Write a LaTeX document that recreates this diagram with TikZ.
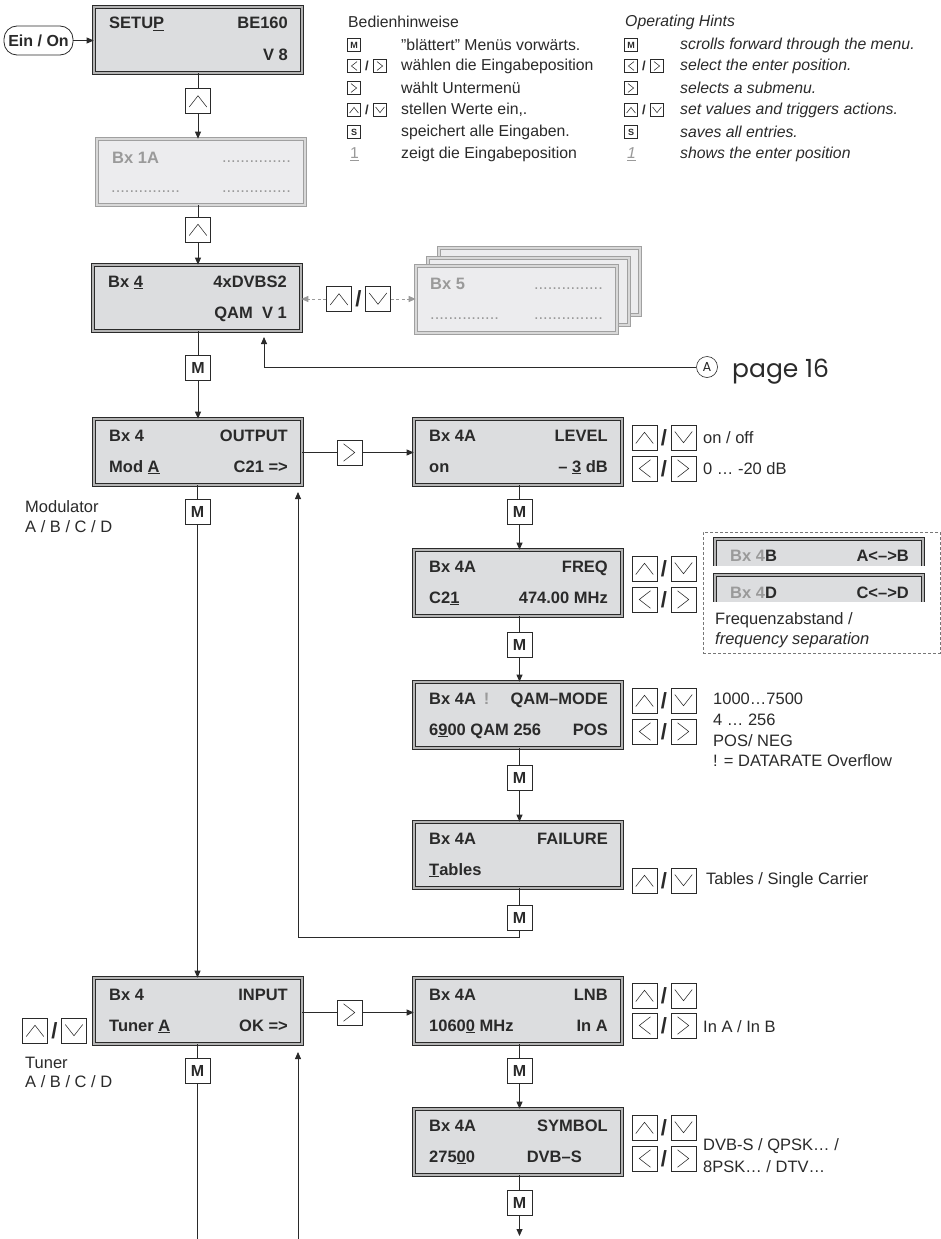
\documentclass[tikz,border=0pt]{standalone}
\usepackage{fontspec}
\setmainfont{Liberation Sans}
\newfontfamily\geofont{Poppins}
\usetikzlibrary{arrows.meta,calc}
\definecolor{lcdfill}{HTML}{DCDDDF}
\definecolor{lcdband}{HTML}{B4B4B4}
\definecolor{ink}{HTML}{2A2A2A}
\definecolor{ffill}{HTML}{ECECEE}
\definecolor{fband}{HTML}{D8D8D8}
\definecolor{fline}{HTML}{A0A0A0}
\definecolor{ftext}{HTML}{9A9A9A}
\definecolor{dashc}{HTML}{777777}

\tikzset{
  lcd/.style={draw=ink, double=lcdband, double distance=2.4pt, line width=0.85pt, fill=lcdfill, minimum width=207.8pt, minimum height=65.8pt, inner sep=0pt},
  lcdf/.style={lcd, draw=fline, double=fband, fill=ffill},
  lt/.style={font=\fontsize{16.5}{18}\selectfont\bfseries, inner sep=0pt, text=ink},
  ltf/.style={lt, text=ftext},
  dots/.style={font=\fontsize{16.5}{18}\selectfont, inner sep=0pt, text=ftext},
  ann/.style={font=\fontsize{16.5}{18}\selectfont, inner sep=0pt, text=ink, anchor=west},
  leg/.style={font=\fontsize{15.8}{17}\selectfont, inner sep=0pt, text=ink, anchor=west},
  legi/.style={leg, font=\fontsize{15.8}{17}\selectfont\itshape},
  key/.style={draw=ink, fill=white, line width=0.7pt, minimum size=#1, inner sep=0pt},
  kup/.style={key=#1, path picture={\draw[line width=0.55pt, ink]
      ([shift={(-0.35*#1,-0.24*#1)}]path picture bounding box.center) --
      ([shift={(0pt,0.21*#1)}]path picture bounding box.center) --
      ([shift={(0.35*#1,-0.24*#1)}]path picture bounding box.center);}},
  kdown/.style={key=#1, path picture={\draw[line width=0.55pt, ink]
      ([shift={(-0.35*#1,0.24*#1)}]path picture bounding box.center) --
      ([shift={(0pt,-0.21*#1)}]path picture bounding box.center) --
      ([shift={(0.35*#1,0.24*#1)}]path picture bounding box.center);}},
  kleft/.style={key=#1, path picture={\draw[line width=0.55pt, ink]
      ([shift={(0.24*#1,0.35*#1)}]path picture bounding box.center) --
      ([shift={(-0.21*#1,0pt)}]path picture bounding box.center) --
      ([shift={(0.24*#1,-0.35*#1)}]path picture bounding box.center);}},
  kright/.style={key=#1, path picture={\draw[line width=0.55pt, ink]
      ([shift={(-0.24*#1,0.35*#1)}]path picture bounding box.center) --
      ([shift={(0.21*#1,0pt)}]path picture bounding box.center) --
      ([shift={(-0.24*#1,-0.35*#1)}]path picture bounding box.center);}},
  mkey/.style={key=25pt, font=\fontsize{16}{16}\selectfont\bfseries, text=ink},
  smkey/.style={key=12.5pt, font=\fontsize{9}{9}\selectfont\bfseries, text=ink},
  slash/.style={font=\fontsize{22}{22}\selectfont\bfseries, inner sep=0pt, text=ink},
  sslash/.style={font=\fontsize{13}{13}\selectfont\bfseries, inner sep=0pt, text=ink},
  ln/.style={draw=ink, line width=0.8pt},
  arr/.style={ln, -{Triangle[length=7pt,width=6pt]}},
  garr/.style={draw=ftext, line width=0.9pt, dash pattern=on 3pt off 2.5pt, -{Triangle[length=7pt,width=6pt]}},
  pill/.style={draw=ink, line width=0.8pt, rounded corners=13pt, minimum width=69pt, minimum height=29pt, inner sep=0pt, font=\fontsize{16}{16}\selectfont\bfseries, text=ink},
}

% LCD box: name, left, top, top-left, top-right, bottom-left, bottom-right
\newcommand\LCD[7]{%
  \node[lcd] (#1) at ({#2+106},{#3+35}) {};
  \node[lt, anchor=base west] (#1-tl) at ({#2+17},{#3+24}) {#4};
  \node[lt, anchor=base east] (#1-tr) at ({#2+196},{#3+24}) {#5};
  \node[lt, anchor=base west] (#1-bl) at ({#2+17},{#3+55}) {#6};
  \node[lt, anchor=base east] (#1-br) at ({#2+196},{#3+55}) {#7};
}
% key pair: name, x, y, left style, right style
\newcommand\KP[5]{%
  \node[#4=25pt] (#1a) at (#2,#3) {};
  \node[slash] (#1s) at ({#2+19.5},#3) {/};
  \node[#5=25pt] (#1b) at ({#2+39},#3) {};
}
\newcommand\SKP[5]{%
  \node[#4=12.5pt] (#1a) at (#2,#3) {};
  \node[sslash] (#1s) at ({#2+13},#3) {/};
  \node[#5=12.5pt] (#1b) at ({#2+26},#3) {};
}

\begin{document}
\begin{tikzpicture}[x=1pt,y=-1pt]
\useasboundingbox (0,0) rectangle (941,1239);
\fill[white] (0,0) rectangle (941,1239);

% ---------- legend ----------
\node[leg] (lgt) at (348,22) {Bedienhinweise};
\node[legi] (rgt) at (625,22) {Operating Hints};
\node[smkey] (lm) at (354,45) {M};
\node[leg] (lmt) at (401,45) {"blättert" Menüs vorwärts.};
\SKP{llr}{354}{66}{kleft}{kright}
\node[leg] (llrt) at (401,66) {wählen die Eingabeposition};
\node[kright=12.5pt] (lr) at (354,88) {};
\node[leg] (lrt) at (401,88) {wählt Untermenü};
\SKP{lud}{354}{110}{kup}{kdown}
\node[leg] (ludt) at (401,110) {stellen Werte ein,.};
\node[smkey] (ls) at (354,132) {S};
\node[leg] (lst) at (401,132) {speichert alle Eingaben.};
\node[leg, text=ftext] (l1) at (350,154) {\underline{1}};
\node[leg] (l1t) at (401,154) {zeigt die Eingabeposition};

\node[smkey] (rm) at (631,45) {M};
\node[legi] (rmt) at (680,45) {scrolls forward through the menu.};
\SKP{rlr}{631}{66}{kleft}{kright}
\node[legi] (rlrt) at (680,66) {select the enter position.};
\node[kright=12.5pt] (rr) at (631,88) {};
\node[legi] (rrt) at (680,88) {selects a submenu.};
\SKP{rud}{631}{110}{kup}{kdown}
\node[legi] (rudt) at (680,110) {set values and triggers actions.};
\node[smkey] (rs) at (631,132) {S};
\node[legi] (rst) at (680,132) {saves all entries.};
\node[legi, text=ftext] (r1) at (627,154) {\underline{1}};
\node[legi] (r1t) at (680,154) {shows the enter position};

% ---------- top column ----------
\node[pill] (ein) at (38.5,40.5) {Ein / On};
\LCD{setup}{92}{5}{SETU\underline{P}}{BE160}{}{V 8}
\draw[arr] (ein.east) -- (ein.east -| setup.west);
\node[kup=25pt] (k1) at (198,101) {};
\draw[ln] (setup.south) -- (k1.north);

% faded Bx 1A
\node[lcdf] (bxa) at (201,172) {};
\node[ltf, anchor=base west] (bxa-tl) at (112,163) {Bx 1A};
\node[dots, anchor=base east] (bxa-tr) at (291,162) {...............};
\node[dots, anchor=base west] (bxa-bl) at (111,192) {...............};
\node[dots, anchor=base east] (bxa-br) at (291,192) {...............};
\draw[arr] (k1.south) -- (k1.south |- bxa.north);

\node[kup=25pt] (k2) at (198,229.5) {};
\draw[ln] (k2.north |- bxa.south) -- (k2.north);
\LCD{bxf}{91}{263}{Bx \underline{4}}{4xDVBS2}{}{QAM\ \ V 1}
\draw[arr] (k2.south) -- (k2.south |- bxf.north);

% Bx 5 stack
\node[lcdf, minimum width=200.8pt, minimum height=66.8pt] (b5c) at (539.5,281.5) {};
\node[lcdf, minimum width=200.8pt, minimum height=66.8pt] (b5b) at (528.5,291.5) {};
\node[lcdf, minimum width=200.8pt, minimum height=66.8pt] (b5a) at (516.5,299.5) {};
\node[ltf, anchor=base west] (b5-tl) at (430,289) {Bx 5};
\node[dots, anchor=base east] (b5-tr) at (603,289) {...............};
\node[dots, anchor=base west] (b5-bl) at (430,319) {...............};
\node[dots, anchor=base east] (b5-br) at (603,319) {...............};

\KP{k3}{339}{299}{kup}{kdown}
\draw[garr] (k3a.west) -- (k3a.west -| bxf.east);
\draw[garr] (k3b.east) -- (k3b.east -| b5a.west);

% return from A
\node[circle, draw=ink, line width=0.6pt, minimum size=21pt, inner sep=0pt, font=\geofont\fontsize{13}{13}\selectfont, text=ink] (cA) at (707,367) {A};
\node[anchor=base west, inner sep=0pt, font=\geofont\fontsize{25}{25}\selectfont, text=ink] (pg) at (732,377) {page 16};
\coordinate (bxfin) at (264,337);
\draw[arr] (cA.west) -| (bxfin);

\node[mkey] (km1) at (198,367.5) {M};
\draw[ln] (bxf.south -| km1.north) -- (km1.north);
\LCD{outp}{92}{417}{Bx 4}{OUTPUT}{Mod \underline{A}}{C21 =>}
\draw[arr] (km1.south) -- (km1.south |- outp.north);

% ---------- OUTPUT branch ----------
\node[kright=25pt] (kr1) at (349.5,452.5) {};
\LCD{lev}{412}{417}{Bx 4A}{LEVEL}{on}{– \underline{3} dB}
\draw[ln] (outp.east |- kr1.west) -- (kr1.west);
\draw[arr] (kr1.east) -- (kr1.east -| lev.west);
\KP{lv1}{644.5}{437.5}{kup}{kdown}
\KP{lv2}{644.5}{468.5}{kleft}{kright}
\node[ann] (lvt1) at (703,437.5) {on / off};
\node[ann] (lvt2) at (703,468.5) {0 … -20 dB};

\node[mkey] (km3) at (519.5,511.5) {M};
\draw[ln] (lev.south -| km3.north) -- (km3.north);
\LCD{frq}{412}{548}{Bx 4A}{FREQ}{C2\underline{1}}{474.00 MHz}
\draw[arr] (km3.south) -- (km3.south |- frq.north);
\KP{fq1}{644.5}{568.5}{kup}{kdown}
\KP{fq2}{644.5}{599.5}{kleft}{kright}

% frequency separation box
\node[draw=dashc, dash pattern=on 3pt off 2pt, line width=0.6pt, minimum width=237pt, minimum height=121pt, inner sep=0pt] (sep) at (821.5,592.5) {};
\begin{scope}
\clip (705,530) rectangle (935,565);
\node[lcd] (sb1) at (819,572) {};
\end{scope}
\node[lt, anchor=base west] (sb1-l) at (730,561) {\textcolor{ftext}{Bx 4}B};
\node[lt, anchor=base east] (sb1-r) at (909,561) {A<–>B};
\begin{scope}
\clip (705,568) rectangle (935,601);
\node[lcd] (sb2) at (819,608) {};
\end{scope}
\node[lt, anchor=base west] (sb2-l) at (730,598) {\textcolor{ftext}{Bx 4}D};
\node[lt, anchor=base east] (sb2-r) at (909,598) {C<–>D};
\node[ann] (sept1) at (715,620) {Frequenzabstand /};
\node[ann, font=\fontsize{16.5}{18}\selectfont\itshape] (sept2) at (715,640) {frequency separation};

\node[mkey] (km4) at (519.5,644.5) {M};
\draw[ln] (frq.south -| km4.north) -- (km4.north);
\LCD{qam}{412}{680}{Bx 4A\hspace{8pt}\textcolor{ftext}{!}}{QAM–MODE}{6\underline{9}00 QAM 256}{POS}
\draw[arr] (km4.south) -- (km4.south |- qam.north);
\KP{qm1}{644.5}{700.5}{kup}{kdown}
\KP{qm2}{644.5}{731.5}{kleft}{kright}
\node[ann] (qmt1) at (713,699) {1000…7500};
\node[ann] (qmt2) at (713,720) {4 … 256};
\node[ann] (qmt3) at (713,741) {POS/ NEG};
\node[ann] (qmt4) at (713,761) {! = DATARATE Overflow};

\node[mkey] (km5) at (519.5,778) {M};
\draw[ln] (qam.south -| km5.north) -- (km5.north);
\LCD{fail}{412}{820}{Bx 4A}{FAILURE}{\underline{T}ables}{}
\draw[arr] (km5.south) -- (km5.south |- fail.north);
\KP{fl}{644.5}{880.5}{kup}{kdown}
\node[ann] (flt) at (706,880.5) {Tables / Single Carrier};

\node[mkey] (km6) at (519.5,917.5) {M};
\draw[ln] (fail.south -| km6.north) -- (km6.north);
\coordinate (r1) at (519.5,937);
\coordinate (outin) at (298,492);
\draw[arr] (km6.south) -- (r1) -| (outin);

% left column below OUTPUT
\node[mkey] (km2) at (197.5,511.5) {M};
\draw[ln] (outp.south -| km2.north) -- (km2.north);
\node[ann] (modt1) at (25,507) {Modulator};
\node[ann] (modt2) at (25,527) {A / B / C / D};

% ---------- INPUT ----------
\LCD{inp}{92}{976}{Bx 4}{INPUT}{Tuner \underline{A}}{OK =>}
\draw[arr] (km2.south) -- (km2.south |- inp.north);
\KP{tn}{35}{1030.5}{kup}{kdown}
\node[ann] (tnt1) at (25,1063) {Tuner};
\node[ann] (tnt2) at (25,1082) {A / B / C / D};

\node[kright=25pt] (kr2) at (349.5,1012.5) {};
\LCD{lnb}{412}{976}{Bx 4A}{LNB}{1060\underline{0} MHz}{In A}
\draw[ln] (inp.east |- kr2.west) -- (kr2.west);
\draw[arr] (kr2.east) -- (kr2.east -| lnb.west);
\KP{ln1}{644.5}{995.5}{kup}{kdown}
\KP{ln2}{644.5}{1025.5}{kleft}{kright}
\node[ann] (lnt) at (703,1027) {In A / In B};

\node[mkey] (km7) at (197.5,1070.5) {M};
\draw[ln] (inp.south -| km7.north) -- (km7.north);
\coordinate (bl1) at (197.5,1239);
\draw[ln] (km7.south) -- (bl1);
\coordinate (bl2) at (298,1239);
\coordinate (inpin) at (298,1052);
\draw[arr] (bl2) -- (inpin);

\node[mkey] (km8) at (519.5,1070.5) {M};
\draw[ln] (lnb.south -| km8.north) -- (km8.north);
\LCD{sym}{412}{1107}{Bx 4A}{SYMBOL}{275\underline{0}0}{DVB–S\kern26pt}
\draw[arr] (km8.south) -- (km8.south |- sym.north);
\KP{sy1}{644.5}{1127.5}{kup}{kdown}
\KP{sy2}{644.5}{1158.5}{kleft}{kright}
\node[ann] (syt1) at (703,1146) {DVB-S / QPSK… /};
\node[ann] (syt2) at (703,1167) {8PSK… / DTV…};

\node[mkey] (km9) at (519.5,1203) {M};
\draw[ln] (sym.south -| km9.north) -- (km9.north);
\coordinate (bl3) at (519.5,1236);
\draw[arr] (km9.south) -- (bl3);
\end{tikzpicture}
\end{document}
